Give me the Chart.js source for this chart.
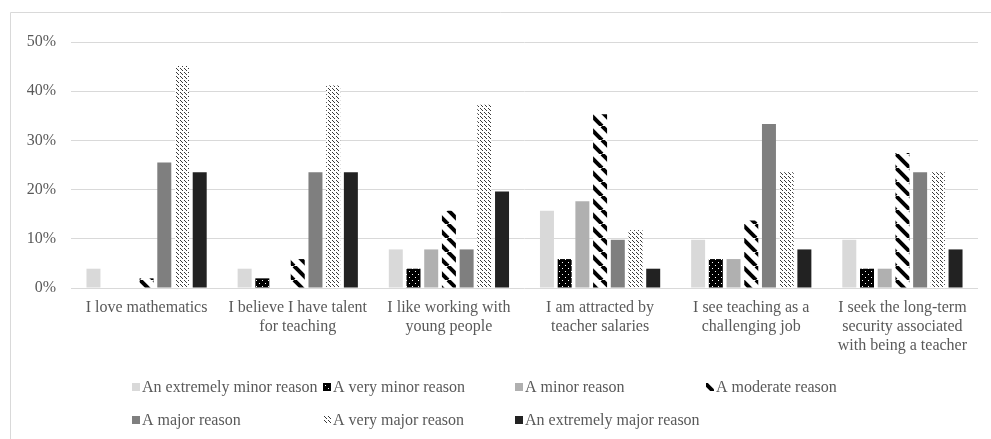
<!DOCTYPE html>
<html>
<head>
<meta charset="utf-8">
<script src="https://cdn.jsdelivr.net/npm/chart.js@4"></script>
<style>
  html, body { margin: 0; padding: 0; background: #fff; }
  #wrap { width: 991px; height: 439px; position: relative; }
</style>
</head>
<body>
<div id="wrap"><canvas id="chart"></canvas></div>
<script>
// categories (x axis), split into lines the way the original wraps them
const categories = [
  ['I love mathematics'],
  ['I believe I have talent', 'for teaching'],
  ['I like working with', 'young people'],
  ['I am attracted by', 'teacher salaries'],
  ['I see teaching as a', 'challenging job'],
  ['I seek the long-term', 'security associated', 'with being a teacher'],
];

const seriesNames = [
  'An extremely minor reason',
  'A very minor reason',
  'A minor reason',
  'A moderate reason',
  'A major reason',
  'A very major reason',
  'An extremely major reason',
];

// percent of respondents, one value per category
const extremelyMinor = [3.92, 3.92, 7.84, 15.69, 9.80, 9.80];
const veryMinor      = [0, 1.96, 3.92, 5.88, 5.88, 3.92];
const minor          = [0, 0, 7.84, 17.65, 5.88, 3.92];
const moderate       = [1.96, 5.88, 15.69, 35.29, 13.73, 27.45];
const major          = [25.49, 23.53, 7.84, 9.80, 33.33, 23.53];
const veryMajor      = [45.10, 41.18, 37.25, 11.76, 23.53, 23.53];
const extremelyMajor = [23.53, 23.53, 19.61, 3.92, 7.84, 7.84];

const yTicks = [0, 10, 20, 30, 40, 50];

const textColor = '#595959';
const gridColor = '#d9d9d9';
const fontFamily = '"Liberation Serif", "Times New Roman", serif';

function makePattern(size, draw) {
  const c = document.createElement('canvas');
  c.width = size;
  c.height = size;
  const g = c.getContext('2d');
  draw(g, size);
  return g.createPattern(c, 'repeat');
}

// black with white dots
const dotsPattern = makePattern(6, (g, s) => {
  g.fillStyle = '#000';
  g.fillRect(0, 0, s, s);
  g.fillStyle = '#fff';
  g.fillRect(1, 1, 1, 1);
  g.fillRect(4, 4, 1, 1);
});

// wide downward diagonal
const wideDiagPattern = makePattern(14, (g, s) => {
  g.fillStyle = '#fff';
  g.fillRect(0, 0, s, s);
  g.strokeStyle = '#000';
  g.lineWidth = 4;
  for (const off of [-s, 0, s]) {
    g.beginPath();
    g.moveTo(off, 0);
    g.lineTo(off + s, s);
    g.stroke();
  }
});

// dashed downward diagonal
const dashDiagPattern = makePattern(8, (g, s) => {
  g.fillStyle = '#fff';
  g.fillRect(0, 0, s, s);
  g.fillStyle = '#3a3a3a';
  for (let i = 0; i < s; i++) {
    if (i % 4 === 3) continue;
    g.fillRect(i, i, 1, 1);
    g.fillRect((i + 4) % s, i, 1, 1);
  }
});

const seriesValues = [extremelyMinor, veryMinor, minor, moderate, major, veryMajor, extremelyMajor];
const seriesFills = ['#d9d9d9', dotsPattern, '#b0b0b0', wideDiagPattern, '#7f7f7f', dashDiagPattern, '#222222'];

const datasets = seriesNames.map((name, i) => ({
  label: name,
  data: seriesValues[i],
  backgroundColor: seriesFills[i],
  borderWidth: 0,
  categoryPercentage: 0.82,
  barPercentage: 0.79,
}));

// legend drawn as a grid of 4 columns like the original
const gridLegend = {
  id: 'gridLegend',
  afterDraw(chart) {
    const ctx = chart.ctx;
    const colX = [132, 323, 515, 706];
    const rowY = [387, 420];
    ctx.save();
    ctx.font = '16px ' + fontFamily;
    ctx.textBaseline = 'middle';
    chart.data.datasets.forEach((ds, i) => {
      const x = colX[i % 4];
      const y = rowY[Math.floor(i / 4)];
      ctx.fillStyle = ds.backgroundColor;
      ctx.fillRect(x, y - 4, 8, 8);
      ctx.fillStyle = textColor;
      ctx.fillText(ds.label, x + 10, y + 1);
    });
    ctx.restore();
  },
};

// thin frame around the chart (right and bottom edges fall outside the picture)
const frame = {
  id: 'frame',
  beforeDraw(chart) {
    const ctx = chart.ctx;
    ctx.save();
    ctx.strokeStyle = gridColor;
    ctx.lineWidth = 1;
    ctx.beginPath();
    ctx.moveTo(10.5, chart.height);
    ctx.lineTo(10.5, 12.5);
    ctx.lineTo(chart.width, 12.5);
    ctx.stroke();
    ctx.restore();
  },
};

new Chart(document.getElementById('chart'), {
  type: 'bar',
  data: { labels: categories, datasets },
  plugins: [frame, gridLegend],
  options: {
    responsive: true,
    maintainAspectRatio: false,
    animation: false,
    layout: { padding: { left: 0, top: 42, right: 13, bottom: 0 } },
    plugins: {
      legend: { display: false },
      tooltip: { enabled: false },
    },
    scales: {
      x: {
        grid: { display: false, drawTicks: false },
        border: { display: false },
        ticks: {
          autoSkip: false,
          maxRotation: 0,
          padding: 10,
          color: textColor,
          font: { family: fontFamily, size: 16, lineHeight: 1.2 },
        },
        afterFit(scale) { scale.height = 151; },
      },
      y: {
        min: 0,
        max: 50,
        afterBuildTicks(scale) { scale.ticks = yTicks.map((v) => ({ value: v })); },
        grid: { color: gridColor, lineWidth: 1, drawTicks: false },
        border: { display: false },
        ticks: {
          padding: 15,
          color: textColor,
          font: { family: fontFamily, size: 16 },
          callback: (v) => v + '%',
        },
        afterFit(scale) { scale.width = 71; },
      },
    },
  },
});
</script>
</body>
</html>
